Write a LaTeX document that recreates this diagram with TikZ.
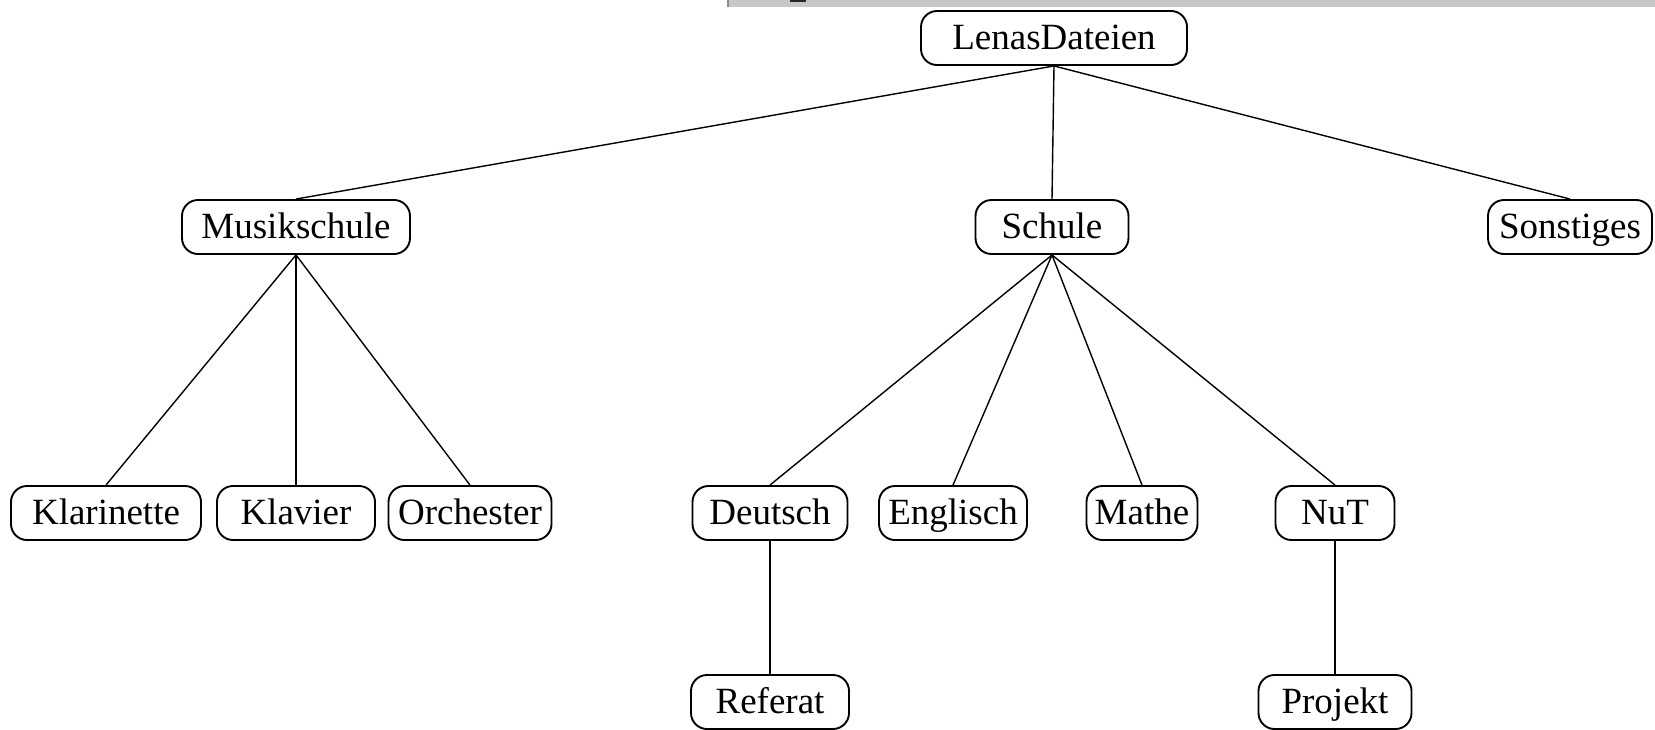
\documentclass[tikz,border=0pt]{standalone}
\usepackage{fontspec}
\setmainfont{Liberation Serif}
\tikzset{
  ordner/.style={draw, rounded corners=16pt, line width=1.9pt, minimum height=54pt,
    inner xsep=0pt, text height=29pt, text depth=7pt, font=\fontsize{37}{40}\selectfont},
  kante/.style={line width=1.4pt}
}
\begin{document}
\begin{tikzpicture}[x=1pt, y=-1pt]
    % 0. Rahmen und grauer Balken oben
    \useasboundingbox (0,0) rectangle (1655,729);
    \fill[black!22] (727,0) rectangle (1655,7);
    \fill[black!45] (727,0) rectangle (729,7);
    \fill[black!85] (790,0) rectangle (806,2);

    % 1. Wurzel
    \node[ordner, minimum width=266pt] (lenas) at (1054,38) {LenasDateien};

    % 2. Erste Ebene
    \node[ordner, minimum width=228pt] (musik) at (296,227) {Musikschule};
    \node[ordner, minimum width=153pt] (schule) at (1052,227) {Schule};
    \node[ordner, minimum width=164pt] (sonst) at (1570,227) {Sonstiges};

    % 3. Zweite Ebene
    \node[ordner, minimum width=190pt] (klarinette) at (106,513) {Klarinette};
    \node[ordner, minimum width=158pt] (klavier) at (296,513) {Klavier};
    \node[ordner, minimum width=163pt] (orchester) at (470,513) {Orchester};
    \node[ordner, minimum width=155pt] (deutsch) at (770,513) {Deutsch};
    \node[ordner, minimum width=148pt] (englisch) at (953,513) {Englisch};
    \node[ordner, minimum width=111pt] (mathe) at (1142,513) {Mathe};
    \node[ordner, minimum width=119pt] (nut) at (1335,513) {NuT};

    % 4. Dritte Ebene
    \node[ordner, minimum width=158pt] (referat) at (770,702) {Referat};
    \node[ordner, minimum width=153pt] (projekt) at (1335,702) {Projekt};

    % 5. Verbindungen
    \foreach \a/\b in {lenas/musik, lenas/schule, lenas/sonst,
        musik/klarinette, musik/klavier, musik/orchester,
        schule/deutsch, schule/englisch, schule/mathe, schule/nut,
        deutsch/referat, nut/projekt}
      \draw[kante] (\a.south) -- (\b.north);

\end{tikzpicture}
\end{document}
